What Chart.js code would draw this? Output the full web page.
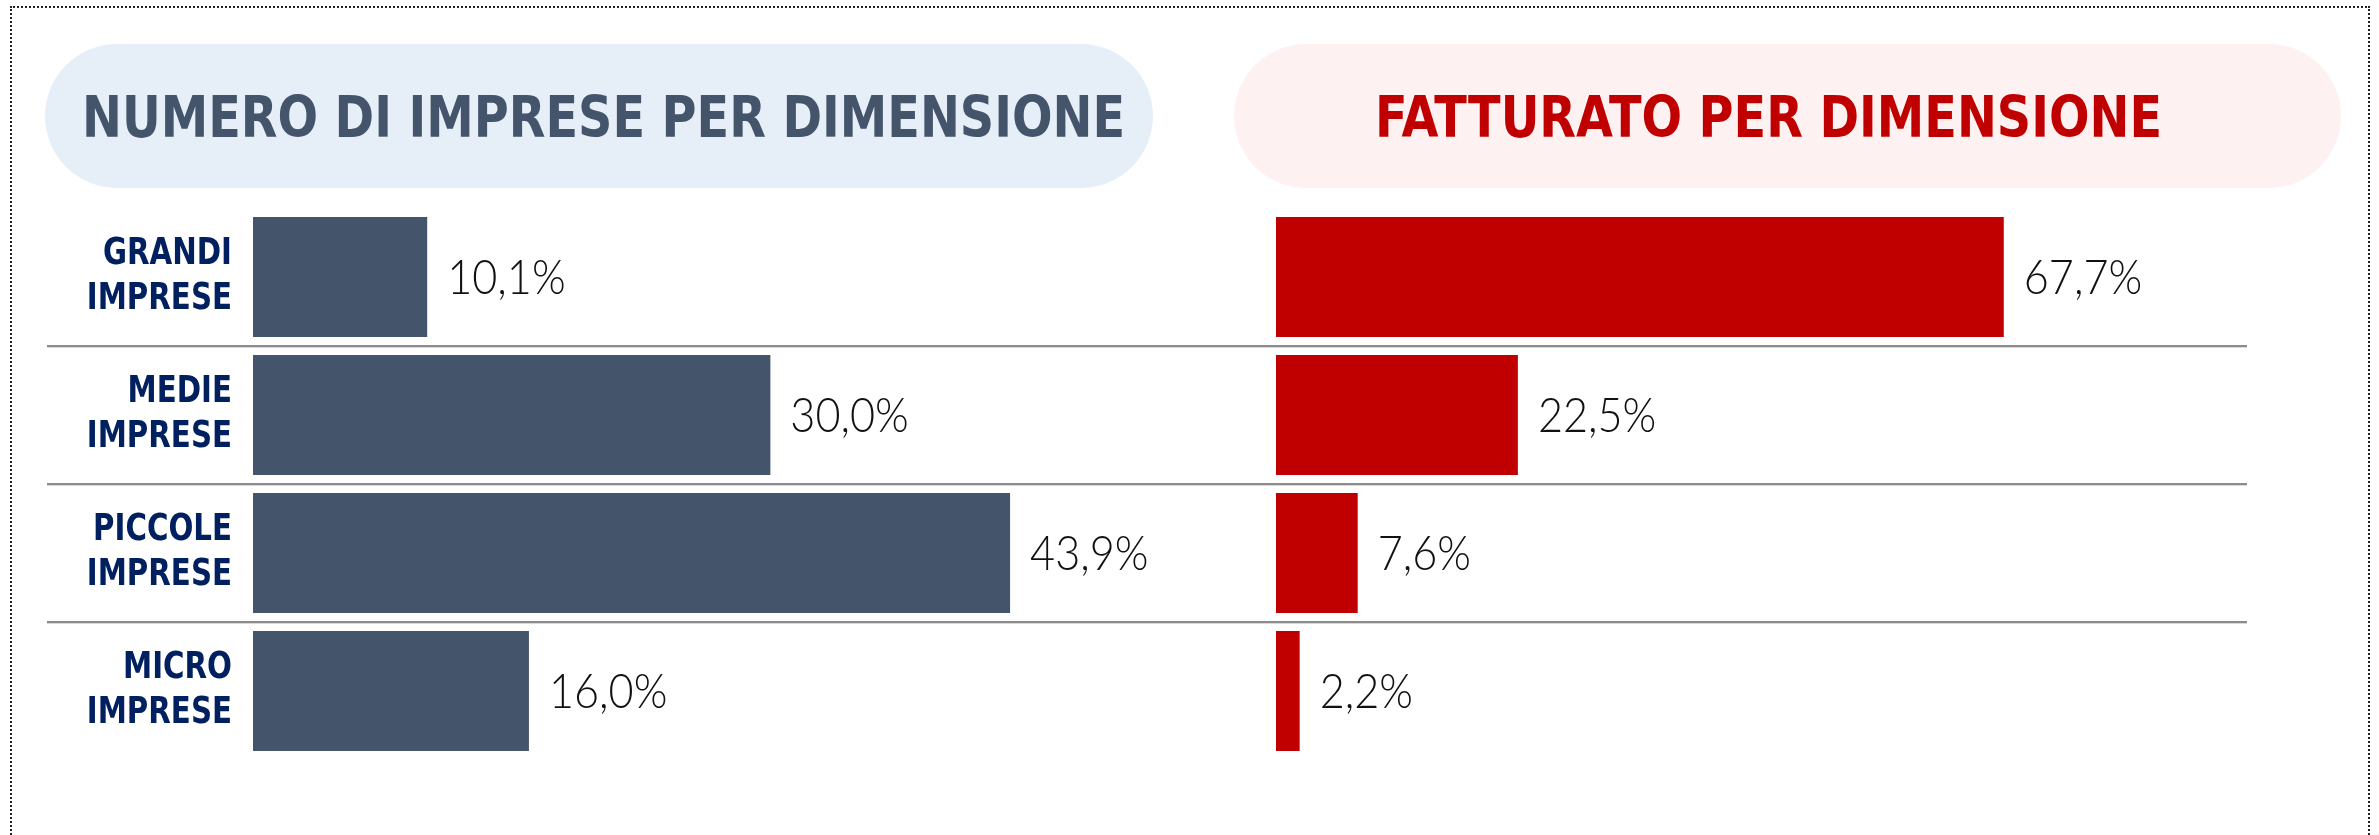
<!DOCTYPE html>
<html lang="it">
<head>
<meta charset="utf-8">
<title>Imprese e fatturato per dimensione</title>
<script src="https://cdn.jsdelivr.net/npm/chart.js@4.4.0/dist/chart.umd.min.js"></script>
<style>
  html, body { margin: 0; padding: 0; background: #fff; }
  body { width: 2379px; height: 835px; position: relative; overflow: hidden; }
  .frame { position: absolute; left: 10px; top: 6px; width: 2356px; height: 900px; border: 2px dotted #222; }
  .pill { position: absolute; top: 44px; height: 144px; border-radius: 72px; }
  .pill.blue { left: 45px; width: 1108px; background: #e6eef7; }
  .pill.red { left: 1234px; width: 1107px; background: #fef1f1; }
  .title { position: absolute; top: 89px; font: bold 57px "Liberation Sans Narrow", "DejaVu Sans Condensed", sans-serif;
           line-height: 57px; white-space: nowrap; transform-origin: 0 0; }
  canvas { position: absolute; top: 0; }
</style>
</head>
<body>
<div class="frame"></div>
<div class="pill blue"></div>
<div class="pill red"></div>
<span class="title" id="title-left" style="left:82px; color:#44546a" data-width="1043"></span>
<span class="title" id="title-right" style="left:1375px; color:#c00000" data-width="787"></span>
<canvas id="chart-left" width="1240" height="835" style="left:0"></canvas>
<canvas id="chart-right" width="1139" height="835" style="left:1240px"></canvas>

<script>
// data
const categories = [['GRANDI', 'IMPRESE'], ['MEDIE', 'IMPRESE'], ['PICCOLE', 'IMPRESE'], ['MICRO', 'IMPRESE']];
const impreseShare = [10.1, 30.0, 43.9, 16.0];   // % numero di imprese
const fatturatoShare = [67.7, 22.5, 7.6, 2.2];   // % fatturato
const titles = ['NUMERO DI IMPRESE PER DIMENSIONE', 'FATTURATO PER DIMENSIONE'];

// titles: squeeze the text to the width it has in the original
['title-left', 'title-right'].forEach((id, i) => {
  const el = document.getElementById(id);
  el.textContent = titles[i];
  const w = el.getBoundingClientRect().width;
  el.style.transform = 'scaleX(' + (el.dataset.width / w) + ')';
});

// grey separator lines between the rows
const rowLines = {
  id: 'rowLines',
  beforeDatasetsDraw(chart, args, opts) {
    const y = chart.scales.y;
    const ctx = chart.ctx;
    ctx.save();
    for (let i = 1; i < chart.data.labels.length; i++) {
      const py = Math.round((y.getPixelForValue(i - 1) + y.getPixelForValue(i)) / 2);
      ctx.fillStyle = '#8c8c8c';
      ctx.fillRect(opts.from, py - 1, opts.to - opts.from, 2);
      ctx.fillStyle = '#d8d8d8';
      ctx.fillRect(opts.from, py + 1, opts.to - opts.from, 1);
    }
    ctx.restore();
  }
};

// category names, drawn narrower than the installed condensed font
const categoryLabels = {
  id: 'categoryLabels',
  afterDraw(chart, args, opts) {
    if (!opts.show) return;
    const y = chart.scales.y;
    const ctx = chart.ctx;
    ctx.save();
    ctx.font = opts.font;
    ctx.fillStyle = opts.color;
    ctx.textAlign = 'right';
    ctx.textBaseline = 'middle';
    chart.data.labels.forEach((lines, i) => {
      const cy = y.getPixelForValue(i);
      lines.forEach((line, k) => {
        ctx.save();
        ctx.translate(opts.right, cy + (k - (lines.length - 1) / 2) * opts.lineHeight);
        ctx.scale(opts.squeeze, 1);
        ctx.fillText(line, 0, 0);
        ctx.restore();
      });
    });
    ctx.restore();
  }
};

// "10,1%" labels at the end of each bar
const valueLabels = {
  id: 'valueLabels',
  afterDatasetsDraw(chart, args, opts) {
    const ctx = chart.ctx;
    const values = chart.data.datasets[0].data;
    ctx.save();
    ctx.font = opts.font;
    ctx.fillStyle = opts.color;
    ctx.textBaseline = 'middle';
    chart.getDatasetMeta(0).data.forEach((bar, i) => {
      const txt = values[i].toFixed(1).replace('.', ',') + '%';
      ctx.save();
      ctx.translate(bar.x + opts.gap, bar.y + 2);
      ctx.scale(opts.squeeze, 1);
      ctx.fillText(txt, 0, 0);
      ctx.restore();
    });
    ctx.restore();
  }
};

function makeChart(id, values, color, o) {
  return new Chart(document.getElementById(id), {
    type: 'bar',
    data: {
      labels: categories,
      datasets: [{ data: values, backgroundColor: color, barPercentage: 0.87, categoryPercentage: 1 }]
    },
    options: {
      indexAxis: 'y',
      responsive: false,
      animation: false,
      layout: { padding: o.padding },
      plugins: {
        legend: { display: false },
        tooltip: { enabled: false },
        rowLines: o.lines,
        categoryLabels: {
          show: o.showLabels, right: 232, lineHeight: 45, squeeze: 0.88, color: '#002060',
          font: 'bold 37px "Liberation Sans Narrow", "DejaVu Sans Condensed", sans-serif'
        },
        valueLabels: { font: '300 47px Lato, "Open Sans", sans-serif', color: '#111', gap: 20, squeeze: 0.92 }
      },
      scales: {
        x: { display: false, min: 0, max: o.max },
        y: {
          display: o.showLabels,
          grid: { display: false, drawTicks: false },
          border: { display: false },
          ticks: { display: false },
          afterFit(scale) { if (o.showLabels) scale.width = 253; }
        }
      }
    },
    plugins: [rowLines, categoryLabels, valueLabels]
  });
}

const leftChart = makeChart('chart-left', impreseShare, '#44546a', {
  padding: { left: 0, right: 4, top: 208, bottom: 75 },
  max: 57, showLabels: true, lines: { from: 47, to: 1240 }
});

const rightChart = makeChart('chart-right', fatturatoShare, '#c00000', {
  padding: { left: 36, right: 28, top: 208, bottom: 75 },
  max: 100, showLabels: false, lines: { from: 0, to: 1007 }
});
</script>
</body>
</html>
